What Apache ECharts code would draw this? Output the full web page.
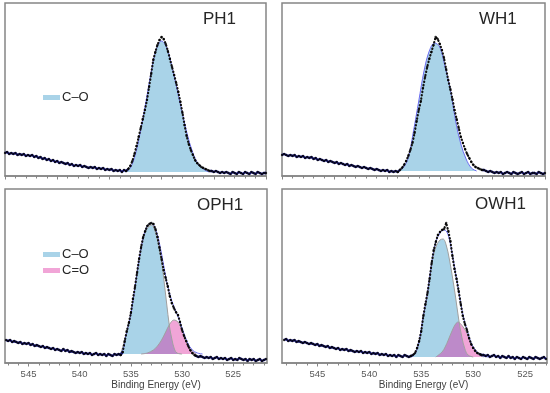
<!DOCTYPE html>
<html><head><meta charset="utf-8">
<script src="https://cdn.jsdelivr.net/npm/echarts@6/dist/echarts.min.js"></script>
<style>html,body{margin:0;padding:0;background:#fff}#c{width:550px;height:393px}</style>
</head><body><div id="c"></div>
<script>
// ---------------- DATA ----------------
const STEP = 0.2; // eV sampling of the spectra
const PH1_START = 550.0, WH1_START = 550.0, OPH1_START = 547.2, OWH1_START = 548.2;

const PH1_Y = [23,24,22,23,22,23,21,22,21,22, 20,21,20,21,19,20,18,19,17,18, 16,17,15,16,14,15,13,14,13,12,
  13,11,12,10,11,10,11,9,10,9, 8,9,8,9,7,8,7,8,6,7, 6,7,5,6,5,6,4,6,5,7,
  10,15,22,30,39,48,57,66,76,89, 102,116,124,131,136,139,137,132,125,117, 109,101,93,84,74,63,51,40,32,26,
  21,16,13,11,9,8,7,6,5,5, 4,5,4,3,4,3,4,3,2,4, 3,2,4,3,2,4,3,2,4,3, 2,4,3,2,3,3];
const WH1_Y = [21,22,21,20,21,20,21,19,20,19, 20,18,19,18,19,17,18,16,17,16, 15,16,14,15,14,13,14,12,13,12,
  11,12,10,11,10,9,10,9,8,9, 8,7,8,7,6,7,6,5,6,5, 6,4,5,4,5,4,6,8,11,15,
  20,26,33,43,55,66,75,88,99,109, 117,124,131,139,137,132,126,118,107,96, 87,77,66,57,48,39,33,27,22,18,
  14,11,9,8,7,6,6,5,4,5, 4,3,4,3,4,2,3,4,3,2, 4,3,2,3,4,2,3,4,2,3, 3,2,4,3,2,3];
const OPH1_Y = [23,22,23,21,22,21,20,21,19,20, 19,20,18,19,17,18,17,16,17,15, 16,15,14,15,13,14,13,12,14,12,
  13,11,12,11,10,11,10,11,9,10, 9,10,8,9,10,8,9,8,9,7, 9,8,7,9,8,9,8,11,22,32,
  40,50,64,76,90,104,116,126,132,137, 139,140,139,134,126,115,104,93,85,77, 67,60,55,51,48,41,33,27,22,17,
  13,10,8,7,6,7,6,5,6,5, 6,4,5,6,4,5,4,5,3,4, 5,3,4,3,5,4,3,4,2,4, 3,4,2,3,4,2,3,4];
const OWH1_Y = [23,24,22,23,22,23,21,22,21,20, 21,20,19,20,19,18,19,17,18,17, 16,17,15,16,15,14,15,13,14,13,
  14,12,13,12,11,12,11,12,10,11, 10,11,9,10,9,10,8,9,8,9, 7,8,7,8,6,8,7,6,8,7,
  6,7,8,10,15,22,32,47,59,70, 84,100,113,121,128,131,133,134,140,132, 122,107,94,84,72,59,47,39,33,25,
  19,15,12,10,9,8,8,7,8,6, 7,8,6,7,5,7,6,5,7,5, 6,4,6,5,4,6,5,4,6,5, 4,6,5,4,5,6,4];

// component backgrounds (level under the fitted peaks)
const PH1_BG = 4, WH1_BG = 5, OPH1_BG = 9, OWH1_BG = 6;
// energy windows where the spectra are drawn as dotted raw points only
const PH1_PEAK = [530.4, 538.2], WH1_PEAK = [531.0, 538.8], OPH1_PEAK = [528.8, 535.8], OWH1_PEAK = [529.4, 535.8];

// fitted components, [eV, height above background]
const PH1_CO = [[538.5,0],[538.0,4],[537.5,18],[537.0,42],[536.5,70],[536.0,100],[535.5,123],[535.0,131],[534.5,124],[534.0,105],[533.5,82],[533.0,58],[532.5,36],[532.0,19],[531.5,8],[531.0,3],[530.5,0]];
const WH1_CO = [[539.0,0],[538.5,3],[538.0,13],[537.5,40],[537.0,70],[536.5,100],[536.0,120],[535.5,128],[535.0,124],[534.5,104],[534.0,82],[533.5,50],[533.0,27],[532.5,12],[532.0,3],[531.5,0]];
const OPH1_CO = [[536.0,0],[535.5,18],[535.0,40],[534.5,73],[534.0,105],[533.5,124],[533.0,129],[532.5,118],[532.0,92],[531.75,72],[531.5,50],[531.25,29],[531.0,15],[530.75,5],[530.5,1],[530.0,0]];
const OPH1_CEO = [[534.0,0],[533.4,1],[532.8,4],[532.4,8],[532.0,14],[531.6,22],[531.2,30],[530.8,34],[530.4,32],[530.0,24],[529.7,16],[529.4,8],[529.0,3],[528.6,0]];
const OPH1_ENV = [[536.2,0],[535.8,3],[535.5,18],[535.0,40],[534.5,74],[534.0,106],[533.5,126],[533.0,131],[532.5,122],[532.0,100],[531.5,72],[531.0,53],[530.5,40],[530.0,26],[529.5,12],[529.0,4],[528.5,1],[528.0,0]];
const OWH1_CO = [[536.0,0],[535.6,3],[535.2,15],[534.8,40],[534.4,62],[534.0,92],[533.6,110],[533.2,117],[532.9,118],[532.6,112],[532.3,98],[532.0,80],[531.7,60],[531.4,38],[531.1,20],[530.8,8],[530.5,2],[530.0,0]];
const OWH1_CEO = [[533.6,0],[533.0,5],[532.7,10],[532.4,17],[532.0,27],[531.7,33],[531.45,35],[531.2,33],[530.9,29],[530.6,24],[530.2,14],[529.8,7],[529.4,2],[529.0,0]];
const OWH1_ENV = [[536.0,0],[535.6,3],[535.2,16],[534.8,41],[534.4,64],[534.0,94],[533.6,115],[533.2,124],[532.9,127],[532.6,126],[532.3,118],[532.0,102],[531.7,84],[531.4,66],[531.1,48],[530.8,34],[530.5,24],[530.2,14],[529.8,7],[529.4,3],[529.0,1],[528.6,0]];

// axes
const TOP_RANGE = [525, 550], OPH1_RANGE = [521.7, 547.3], OWH1_RANGE = [522.9, 548.4];
const TOP_MAJOR = [525,530,535,540,545,550];
const TICK_LABELS = [525,530,535,540,545];
const TOP_MINOR = [525,526,527,528,529,530,531,532,533,534,535,536,537,538,539,540,541,542,543,544,545,546,547,548,549,550];
const OPH1_MINOR = [522,523,524,525,526,527,528,529,530,531,532,533,534,535,536,537,538,539,540,541,542,543,544,545,546,547];
const OWH1_MINOR = [523,524,525,526,527,528,529,530,531,532,533,534,535,536,537,538,539,540,541,542,543,544,545,546,547,548];
const AXIS_NAME = 'Binding Energy (eV)';
const TITLES = ['PH1','WH1','OPH1','OWH1'];
const CO_NAME = 'C–O', CEO_NAME = 'C=O';

// ---------------- LAYOUT / STYLE ----------------
const GRIDS = [{left:5,top:3,width:261,height:173},{left:282,top:3,width:263,height:173},
               {left:5,top:189,width:262,height:174},{left:282,top:189,width:265,height:174}];
const TITLE_POS = [{left:203,top:11},{left:479,top:11},{left:197,top:197},{left:475,top:196}];
const NAME_SHIFT = [0, 0, 40, 18];
const FRAME = '#858585';
const BLUE_FILL = '#a9d3e8', PINK_FILL = 'rgba(220,30,155,0.4)';
const FIT = '#6b6bf0', NAVY = '#1c1c8e';

const panels = [
  {y:PH1_Y, start:PH1_START, bg:PH1_BG, peak:PH1_PEAK, comps:[[CO_NAME,PH1_CO,BLUE_FILL]], env:null, range:TOP_RANGE, major:TOP_MAJOR, minor:TOP_MINOR, labels:false},
  {y:WH1_Y, start:WH1_START, bg:WH1_BG, peak:WH1_PEAK, comps:[[CO_NAME,WH1_CO,BLUE_FILL]], env:null, range:TOP_RANGE, major:TOP_MAJOR, minor:TOP_MINOR, labels:false},
  {y:OPH1_Y, start:OPH1_START, bg:OPH1_BG, peak:OPH1_PEAK, comps:[[CO_NAME,OPH1_CO,BLUE_FILL],[CEO_NAME,OPH1_CEO,PINK_FILL]], env:OPH1_ENV, range:OPH1_RANGE, major:TICK_LABELS, minor:OPH1_MINOR, labels:true},
  {y:OWH1_Y, start:OWH1_START, bg:OWH1_BG, peak:OWH1_PEAK, comps:[[CO_NAME,OWH1_CO,BLUE_FILL],[CEO_NAME,OWH1_CEO,PINK_FILL]], env:OWH1_ENV, range:OWH1_RANGE, major:TICK_LABELS, minor:OWH1_MINOR, labels:true}
];

const option = {animation:false, grid:[], xAxis:[], yAxis:[], title:[], legend:[], series:[]};
const LABEL_FONT = 'Liberation Sans, Arial, sans-serif';

panels.forEach((p,k)=>{
  const g = GRIDS[k];
  option.grid.push(Object.assign({show:true, borderColor:FRAME, borderWidth:1.5, backgroundColor:'transparent'}, g));
  option.xAxis.push({type:'value', gridIndex:k, position:'bottom', min:p.range[0], max:p.range[1], inverse:true,
    axisLine:{show:true, onZero:false, lineStyle:{color:FRAME, width:1.5}},
    axisTick:{show:true, length:3.5, customValues:p.major, lineStyle:{color:FRAME, width:1}},
    axisLabel:{show:p.labels, customValues:p.major, fontSize:9.5, color:'#595959', margin:6, fontFamily:LABEL_FONT},
    splitLine:{show:false},
    name:p.labels?AXIS_NAME:'', nameLocation:'middle', nameGap:15,
    nameTextStyle:{fontSize:10, color:'#404040', fontFamily:LABEL_FONT, padding:[0,0,0,NAME_SHIFT[k]]}});
  option.xAxis.push({type:'value', gridIndex:k, position:'bottom', min:p.range[0], max:p.range[1], inverse:true,
    axisLine:{show:false, onZero:false}, axisTick:{show:true, length:2.5, customValues:p.minor, lineStyle:{color:FRAME, width:1}},
    axisLabel:{show:false}, splitLine:{show:false}});
  option.yAxis.push({type:'value', gridIndex:k, min:0, max:g.height, show:false});
  option.title.push({text:TITLES[k], left:TITLE_POS[k].left, top:TITLE_POS[k].top, padding:0,
    textStyle:{fontSize:17, fontWeight:'normal', color:'#262626', fontFamily:LABEL_FONT}});

  const xi = 2*k, yi = k;
  const xs = p.y.map((_,i)=> +(p.start - i*STEP).toFixed(1));
  p.comps.forEach(([nm, arr, fill])=>{
    option.series.push({type:'line', name:nm, xAxisIndex:xi, yAxisIndex:yi, smooth:0.35, symbol:'none', silent:true,
      data:arr.map(([x,v])=>[x, p.bg+v]),
      itemStyle:{color:fill},
      lineStyle:{color: p.env ? '#a0a0a0' : FIT, width:1},
      areaStyle:{color:fill, opacity:1, origin:p.bg}, z:1});
  });
  if (p.env) {
    option.series.push({type:'line', name:'fit'+k, xAxisIndex:xi, yAxisIndex:yi, smooth:0.35, symbol:'none', silent:true,
      data:p.env.map(([x,v])=>[x, p.bg+v]), lineStyle:{color:FIT, width:1}, z:2});
  }
  option.series.push({type:'line', name:'bgline'+k, xAxisIndex:xi, yAxisIndex:yi, symbol:'none', silent:true, connectNulls:false,
    data:xs.map((x,i)=> (x>p.peak[0] && x<p.peak[1]) ? [x,null] : [x,p.y[i]]),
    lineStyle:{color:NAVY, width:2.4}, z:3});
  option.series.push({type:'line', name:'dots'+k, xAxisIndex:xi, yAxisIndex:yi, symbol:'none', silent:true, connectNulls:false,
    data:xs.map((x,i)=> (x>=p.peak[0]-0.2 && x<=p.peak[1]+0.2) ? [x,p.y[i]] : [x,null]),
    lineStyle:{color:'#111', width:2.2, type:[0.4,3], cap:'round'}, z:4});
  option.series.push({type:'scatter', name:'raw'+k, xAxisIndex:xi, yAxisIndex:yi, silent:true, symbolSize:2.4,
    data:xs.map((x,i)=>[x,p.y[i]]), itemStyle:{color:'#000'}, z:5});
});

const legendCommon = {icon:'rect', itemWidth:17, itemHeight:5, selectedMode:false, padding:0, orient:'vertical', itemGap:3,
  itemStyle:{borderWidth:0}, textStyle:{fontSize:13, color:'#262626', fontFamily:LABEL_FONT, padding:[0,0,0,-3]}};
option.legend.push(Object.assign({left:43, top:91, data:[CO_NAME]}, legendCommon));
option.legend.push(Object.assign({left:43, top:248, data:[CO_NAME, CEO_NAME]}, legendCommon));

const chart = echarts.init(document.getElementById('c'), null, {renderer:'canvas'});
chart.setOption(option);
</script></body></html>
